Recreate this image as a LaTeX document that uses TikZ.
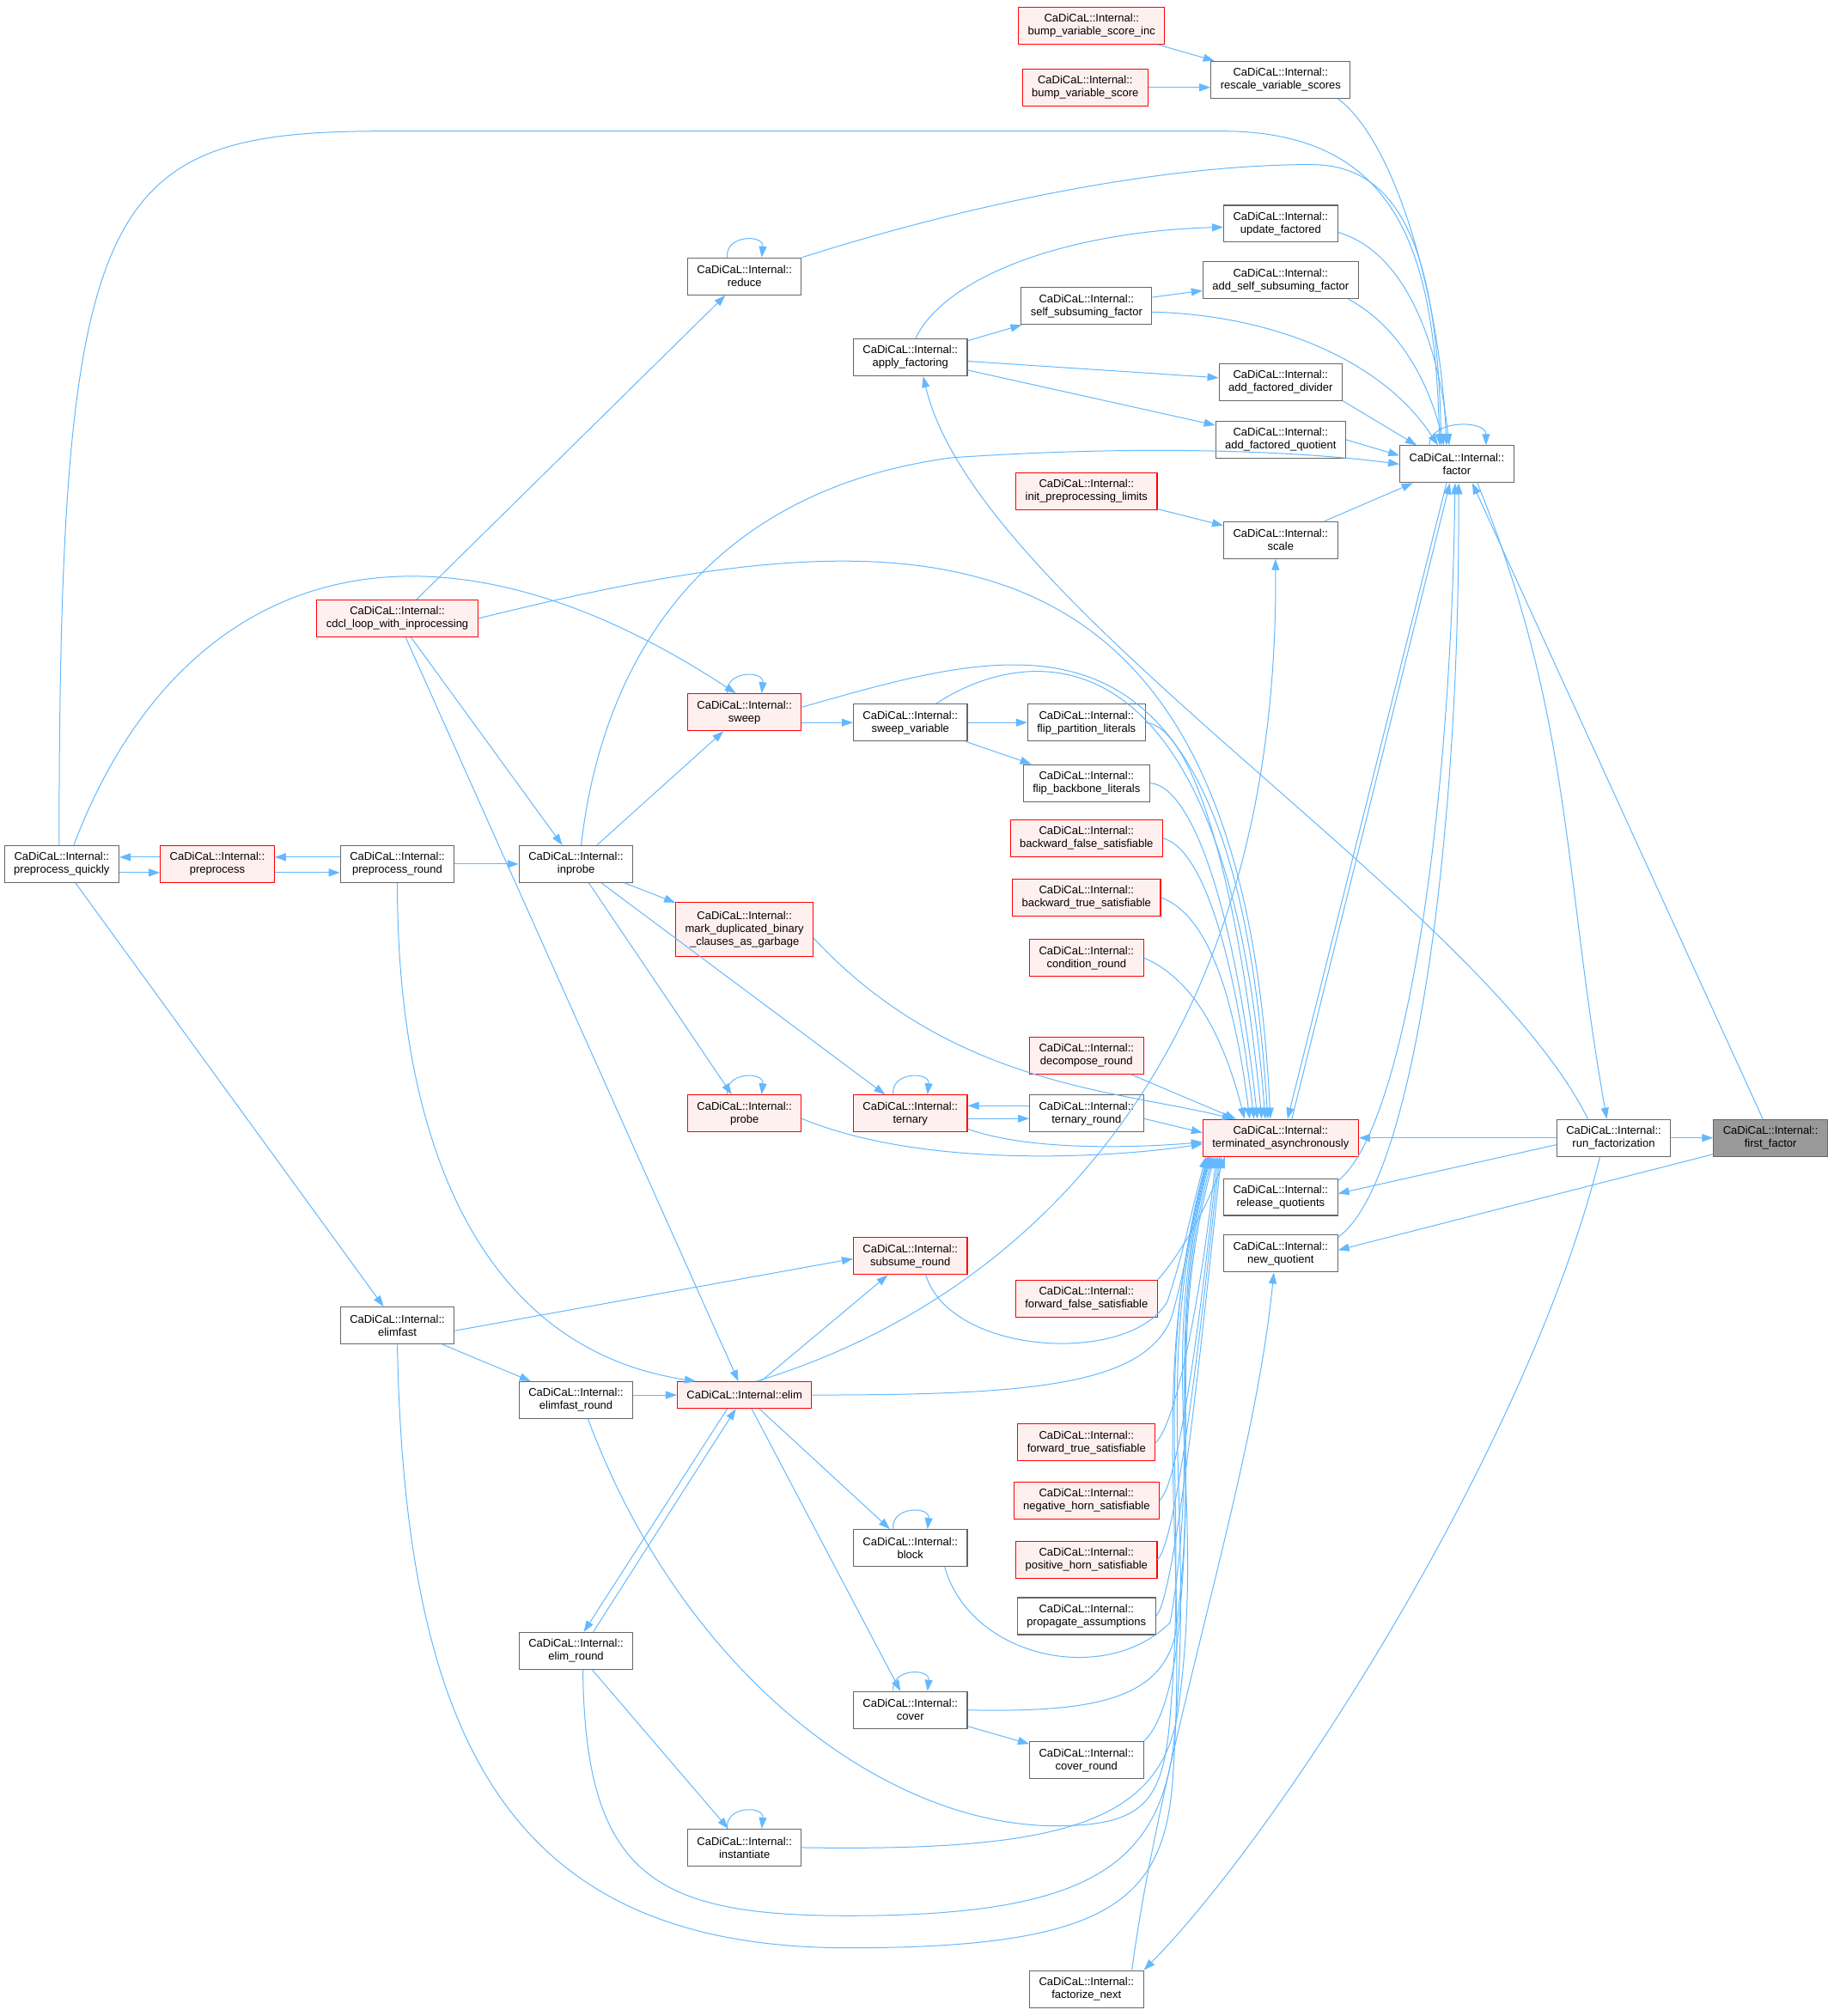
\documentclass[tikz,border=0pt]{standalone}
\usepackage{fontspec}
\setmainfont{Liberation Sans}
\usetikzlibrary{arrows.meta}
\definecolor{edgeblue}{HTML}{63B8FF}
\definecolor{boxgrey}{HTML}{666666}
\definecolor{focusgrey}{HTML}{999999}
\definecolor{redline}{HTML}{FF0000}
\definecolor{redfill}{HTML}{FFF0F0}
\begin{document}
\begin{tikzpicture}
	[
		x=1.497pt,
		y=-1.497pt,
		fn/.style={draw=boxgrey, fill=white, line width=1.1pt, align=center,
			inner xsep=11pt, inner ysep=4pt, minimum height=43pt,
			font=\fontsize{13pt}{15pt}\selectfont},
		fnred/.style={fn, draw=redline, fill=redfill},
		fnfocus/.style={fn, fill=focusgrey},
		edge/.style={draw=edgeblue, line width=1pt, -{Triangle[length=13pt, width=9pt]}}
	]
	\useasboundingbox (0,0) rectangle (1426,1568);
	% Functions
	\node[fnred] (bumpinc) at (849,20) {CaDiCaL::Internal::\\bump\_variable\_score\_inc};
	\node[fnred] (bump) at (844,68) {CaDiCaL::Internal::\\bump\_variable\_score};
	\node[fn] (rescale) at (996,62) {CaDiCaL::Internal::\\rescale\_variable\_scores};
	\node[fn] (updfact) at (996,174) {CaDiCaL::Internal::\\update\_factored};
	\node[fn] (reduce) at (579,215) {CaDiCaL::Internal::\\reduce};
	\node[fn] (addself) at (996,218) {CaDiCaL::Internal::\\add\_self\_subsuming\_factor};
	\node[fn] (selfsub) at (845,238) {CaDiCaL::Internal::\\self\_subsuming\_factor};
	\node[fn] (apply) at (708,278) {CaDiCaL::Internal::\\apply\_factoring};
	\node[fn] (adddiv) at (996,297) {CaDiCaL::Internal::\\add\_factored\_divider};
	\node[fn] (addquot) at (996,342) {CaDiCaL::Internal::\\add\_factored\_quotient};
	\node[fn] (factor) at (1133,361) {CaDiCaL::Internal::\\factor};
	\node[fnred] (initpre) at (845,382) {CaDiCaL::Internal::\\init\_preprocessing\_limits};
	\node[fn] (scale) at (996,420) {CaDiCaL::Internal::\\scale};
	\node[fnred] (cdcl) at (309,481) {CaDiCaL::Internal::\\cdcl\_loop\_with\_inprocessing};
	\node[fnred] (sweep) at (579,554) {CaDiCaL::Internal::\\sweep};
	\node[fn] (sweepvar) at (708,562) {CaDiCaL::Internal::\\sweep\_variable};
	\node[fn] (flippart) at (845,562) {CaDiCaL::Internal::\\flip\_partition\_literals};
	\node[fn] (flipback) at (845,609) {CaDiCaL::Internal::\\flip\_backbone\_literals};
	\node[fn] (prequick) at (48,672) {CaDiCaL::Internal::\\preprocess\_quickly};
	\node[fnred] (prep) at (169,672) {CaDiCaL::Internal::\\preprocess};
	\node[fn] (preround) at (309,672) {CaDiCaL::Internal::\\preprocess\_round};
	\node[fn] (inprobe) at (448,672) {CaDiCaL::Internal::\\inprobe};
	\node[fnred] (backfalse) at (845,652) {CaDiCaL::Internal::\\backward\_false\_satisfiable};
	\node[fnred, minimum height=63pt] (markdup) at (579,723) {CaDiCaL::Internal::\\mark\_duplicated\_binary\\\_clauses\_as\_garbage};
	\node[fnred] (backtrue) at (845,698) {CaDiCaL::Internal::\\backward\_true\_satisfiable};
	\node[fnred] (condround) at (845,745) {CaDiCaL::Internal::\\condition\_round};
	\node[fnred] (decomp) at (845,821) {CaDiCaL::Internal::\\decompose\_round};
	\node[fnred] (probe) at (579,866) {CaDiCaL::Internal::\\probe};
	\node[fnred] (ternary) at (708,866) {CaDiCaL::Internal::\\ternary};
	\node[fn] (ternround) at (845,866) {CaDiCaL::Internal::\\ternary\_round};
	\node[fnred] (term) at (996,885) {CaDiCaL::Internal::\\terminated\_asynchronously};
	\node[fn] (runfact) at (1255,885) {CaDiCaL::Internal::\\run\_factorization};
	\node[fnfocus] (first) at (1377,885) {CaDiCaL::Internal::\\first\_factor};
	\node[fn] (release) at (996,931) {CaDiCaL::Internal::\\release\_quotients};
	\node[fn] (newquot) at (996,975) {CaDiCaL::Internal::\\new\_quotient};
	\node[fnred] (subsume) at (708,977) {CaDiCaL::Internal::\\subsume\_round};
	\node[fnred] (fwdfalse) at (845,1010) {CaDiCaL::Internal::\\forward\_false\_satisfiable};
	\node[fn] (elimfast) at (309,1031) {CaDiCaL::Internal::\\elimfast};
	\node[fn] (elimfastr) at (448,1089) {CaDiCaL::Internal::\\elimfast\_round};
	\node[fnred, minimum height=31pt] (elim) at (579,1085) {CaDiCaL::Internal::elim};
	\node[fnred] (fwdtrue) at (845,1122) {CaDiCaL::Internal::\\forward\_true\_satisfiable};
	\node[fnred] (neghorn) at (845,1167) {CaDiCaL::Internal::\\negative\_horn\_satisfiable};
	\node[fn] (block) at (708,1204) {CaDiCaL::Internal::\\block};
	\node[fnred] (poshorn) at (845,1213) {CaDiCaL::Internal::\\positive\_horn\_satisfiable};
	\node[fn] (propag) at (845,1257) {CaDiCaL::Internal::\\propagate\_assumptions};
	\node[fn] (elimround) at (448,1284) {CaDiCaL::Internal::\\elim\_round};
	\node[fn] (cover) at (708,1330) {CaDiCaL::Internal::\\cover};
	\node[fn] (coverround) at (845,1369) {CaDiCaL::Internal::\\cover\_round};
	\node[fn] (inst) at (579,1437) {CaDiCaL::Internal::\\instantiate};
	\node[fn] (factnext) at (845,1547) {CaDiCaL::Internal::\\factorize\_next};
	% Self calls
	\foreach \n in {reduce, sweep, probe, ternary, block, cover, inst} {
			\draw[edge] ([xshift=-20pt]\n.north) .. controls +(-2,-18) and +(2,-18) .. ([xshift=20pt]\n.north);
		}
	\draw[edge] ([xshift=-32pt]factor.north) .. controls +(0,-20) and +(0,-20) .. ([xshift=34pt]factor.north);
	% Into rescale and factor
	\draw[edge] (bumpinc) -- (rescale);
	\draw[edge] (bump.east) -- (bump.east -| rescale.west);
	\draw[edge] ([xshift=-15pt]rescale.south east) .. controls (1085,110) and (1120,230) .. ([xshift=-12pt]factor.north);
	\draw[edge] ([yshift=-10pt]updfact.east) .. controls (1090,195) and (1118,260) .. ([xshift=-9pt]factor.north);
	\draw[edge] ([xshift=-12pt]addself.south east) .. controls (1090,255) and (1112,300) .. ([xshift=-15pt]factor.north);
	\draw[edge] ([yshift=-7pt]selfsub.east) .. controls (990,245) and (1075,280) .. ([xshift=-22pt]factor.north);
	\draw[edge] (adddiv.south east) -- ([xshift=20pt]factor.north west);
	\draw[edge] (addquot.east) -- ([yshift=10pt]factor.west);
	\draw[edge] (scale) -- (factor);
	\draw[edge] (initpre) -- (scale);
	\draw[edge] (reduce.north east) .. controls (750,160) and (900,128) .. (1020,128) .. controls (1100,128) and (1118,220) .. ([xshift=-18pt]factor.north);
	\draw[edge] ([xshift=-3pt]prequick.north) .. controls (46,150) and (80,102) .. (300,102) -- (950,102) .. controls (1090,102) and (1116,200) .. ([xshift=-20pt]factor.north);
	\draw[edge] ([xshift=6pt]inprobe.north) .. controls (470,500) and (560,380) .. (740,356) .. controls (900,345) and (1020,352) .. (factor.west);
	% Factoring
	\draw[edge] ([xshift=6pt]apply.north) .. controls (735,215) and (830,180) .. ([yshift=-4pt]updfact.west);
	\draw[edge] (apply) -- (selfsub);
	\draw[edge] (selfsub) -- (addself);
	\draw[edge] (apply) -- (adddiv);
	\draw[edge] (apply) -- (addquot);
	\draw[edge] (runfact) -- (first);
	\draw[edge] (runfact) -- (term);
	\draw[edge] ([yshift=-8pt]runfact.west) -- ([yshift=4pt]release.east);
	\draw[edge] ([yshift=3pt]first.south west) -- ([yshift=4pt]newquot.east);
	\draw[edge] ([xshift=-30pt]runfact.north) .. controls (1150,700) and (760,470) .. ([xshift=15pt]apply.south);
	\draw[edge] ([xshift=-16pt]runfact.south) .. controls (1190,1120) and (1000,1420) .. (factnext.north east);
	\draw[edge] ([xshift=24pt]factor.south) to[out=-68, in=100] ([xshift=-8pt]runfact.north);
	\draw[edge] ([xshift=-9pt]first.north) -- ([xshift=18pt]factor.south);
	\draw[edge] ([xshift=13pt]term.north) -- ([xshift=-8pt]factor.south);
	\draw[edge] ([xshift=-12pt]factor.south) -- ([xshift=8pt]term.north);
	\draw[edge] ([yshift=-3pt]release.north east) .. controls (1090,880) and (1128,650) .. ([xshift=-2pt]factor.south);
	\draw[edge] ([yshift=-3pt]newquot.north east) .. controls (1100,920) and (1136,650) .. ([xshift=2pt]factor.south);
	\draw[edge] ([xshift=-14pt]factnext.north east) .. controls (905,1350) and (975,1150) .. ([xshift=-8pt]newquot.south);
	% Preprocessing and inprocessing
	\draw[edge] ([yshift=-10pt]prequick.east) -- ([yshift=-10pt]prep.west);
	\draw[edge] ([yshift=8pt]prep.west) -- ([yshift=8pt]prequick.east);
	\draw[edge] ([yshift=-10pt]prep.east) -- ([yshift=-10pt]preround.west);
	\draw[edge] ([yshift=8pt]preround.west) -- ([yshift=8pt]prep.east);
	\draw[edge] (preround) -- (inprobe);
	\draw[edge] ([xshift=14pt]prequick.north) .. controls (140,440) and (330,380) .. ([xshift=-10pt]sweep.north);
	\draw[edge] (prequick) -- (elimfast);
	\draw[edge] (cdcl) -- (reduce);
	\draw[edge] (cdcl) -- (inprobe);
	\draw[edge] (cdcl) -- (elim);
	\draw[edge] (preround.south) .. controls (309,900) and (380,1050) .. ([xshift=22pt]elim.north west);
	\draw[edge] (inprobe) -- (sweep);
	\draw[edge] (sweep.east |- sweepvar.west) -- (sweepvar.west);
	\draw[edge] (sweepvar) -- (flippart);
	\draw[edge] (sweepvar) -- (flipback);
	\draw[edge] (inprobe) -- (markdup);
	\draw[edge] (inprobe) -- (probe);
	\draw[edge] (inprobe) -- (ternary);
	\draw[edge] ([yshift=-6pt]ternary.east) -- ([yshift=-6pt]ternround.west);
	\draw[edge] ([yshift=9pt]ternround.west) -- ([yshift=9pt]ternary.east);
	% Elimination
	\draw[edge] ([xshift=14pt]elim.north) .. controls (800,1010) and (995,820) .. ([xshift=-6pt]scale.south);
	\draw[edge] (elim) -- (subsume);
	\draw[edge] ([yshift=-6pt]elimfast.east) -- ([yshift=-3pt]subsume.west);
	\draw[edge] (elimfast) -- (elimfastr);
	\draw[edge] (elimfastr.east |- elim.west) -- (elim.west);
	\draw[edge] ([xshift=-20pt]elim.south) -- ([xshift=9pt]elimround.north);
	\draw[edge] ([xshift=20pt]elimround.north) -- ([xshift=-10pt]elim.south);
	\draw[edge] (elim) -- (block);
	\draw[edge] (elim) -- (cover);
	\draw[edge] (cover) -- (coverround);
	\draw[edge] (elimround) -- (inst);
	% Into terminated_asynchronously from above
	\draw[edge] (cdcl.east) .. controls (700,400) and (965,380) .. ([xshift=-12pt]term.north);
	\draw[edge] ([yshift=6pt]sweep.east) .. controls (800,500) and (960,450) .. ([xshift=-15pt]term.north);
	\draw[edge] ([xshift=30pt]sweepvar.north) .. controls (800,500) and (955,480) .. ([xshift=-18pt]term.north);
	\draw[edge] (flippart.east) .. controls (930,565) and (965,700) .. ([xshift=-22pt]term.north);
	\draw[edge] (flipback.east) .. controls (930,612) and (962,720) .. ([xshift=-27pt]term.north);
	\draw[edge] (backfalse.east) .. controls (935,660) and (960,740) .. ([xshift=-31pt]term.north);
	\draw[edge] (backtrue.east) .. controls (935,710) and (958,760) .. ([xshift=-36pt]term.north);
	\draw[edge] (condround.east) .. controls (925,760) and (950,800) .. ([xshift=-42pt]term.north);
	\draw[edge] (decomp) -- ([xshift=-52pt]term.north);
	\draw[edge] ([yshift=-10pt]markdup.east) .. controls (740,845) and (870,848) .. ([xshift=-55pt]term.north);
	% Into terminated_asynchronously from the left
	\draw[edge] ([yshift=-6pt]ternround.east) -- ([yshift=6pt]term.west);
	\draw[edge] ([yshift=4pt]ternary.south east) .. controls (800,895) and (880,893) .. ([yshift=-5pt]term.west);
	\draw[edge] ([yshift=-6pt]probe.east) .. controls (720,910) and (870,900) .. ([yshift=-7pt]term.west);
	% Into terminated_asynchronously from below
	\draw[edge] ([xshift=18pt]subsume.south) .. controls (740,1055) and (880,1062) .. (908,1012) to[out=72, in=-105] ([xshift=4pt]term.south west);
	\draw[edge] (elim.east) .. controls (800,1085) and (890,1078) .. (911,1025) to[out=74, in=-105] ([xshift=6pt]term.south west);
	\draw[edge] ([xshift=40pt]block.south) .. controls (755,1290) and (860,1312) .. (910,1262) to[out=80, in=-105] ([xshift=10pt]term.south west);
	\draw[edge] (cover.east) .. controls (850,1332) and (902,1322) .. (914,1272) to[out=82, in=-105] ([xshift=12pt]term.south west);
	\draw[edge] (coverround.north east) .. controls (905,1340) and (915,1300) .. (918,1250) to[out=85, in=-105] ([xshift=14pt]term.south west);
	\draw[edge] (inst.east) .. controls (820,1440) and (902,1420) .. (916,1332) to[out=82, in=-105] ([xshift=9pt]term.south west);
	\draw[edge] ([xshift=8pt]elimround.south) .. controls (455,1460) and (510,1490) .. (660,1490) .. controls (850,1490) and (905,1450) .. (914,1345) to[out=85, in=-105] ([xshift=8pt]term.south west);
	\draw[edge] (elimfast.south) .. controls (315,1360) and (400,1515) .. (660,1515) .. controls (860,1515) and (905,1480) .. (912,1385) to[out=86, in=-105] ([xshift=7pt]term.south west);
	\draw[edge] ([xshift=14pt]elimfastr.south) .. controls (530,1300) and (690,1425) .. (830,1420) .. controls (890,1418) and (905,1400) .. (910,1335) to[out=85, in=-105] ([xshift=6pt]term.south west);
	\draw[edge] (fwdfalse.north east) .. controls (910,985) and (935,950) .. ([xshift=26pt]term.south west);
	\foreach \n/\k in {fwdtrue/16, neghorn/18, poshorn/20, propag/22} {
			\draw[edge] (\n.east) .. controls +(16,-15) and +(-12,110) .. ([xshift=\k pt]term.south west);
		}
\end{tikzpicture}
\end{document}
